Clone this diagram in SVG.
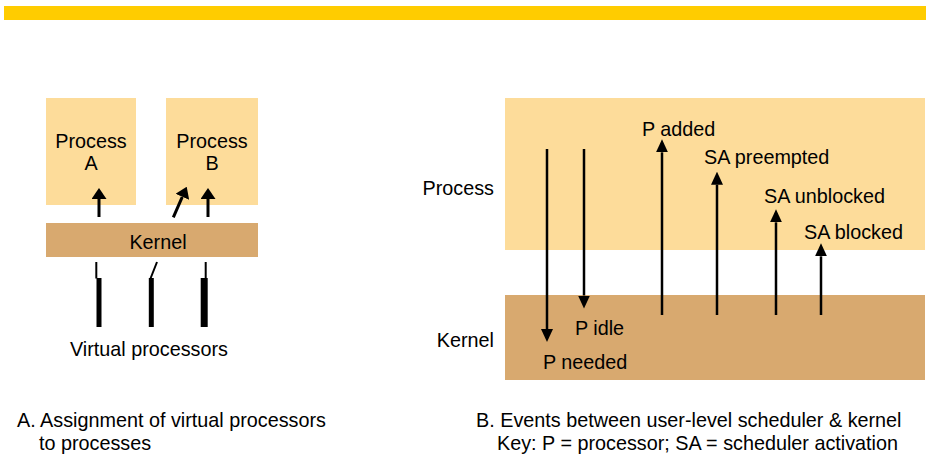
<svg xmlns="http://www.w3.org/2000/svg" width="926" height="456" viewBox="0 0 926 456">
<style>
text{font-family:"Liberation Sans",Arial,sans-serif;font-size:19.8px;fill:#000}
.proc{fill:#FDDC9A}
.kern{fill:#D8A96F}
.la{stroke:#000;stroke-width:3;fill:none}
.ra{stroke:#000;stroke-width:2.5;fill:none}
</style>
<defs>
<marker id="hl" markerUnits="userSpaceOnUse" markerWidth="11" markerHeight="15" viewBox="0 0 11 15" refX="0" refY="7.5" orient="auto"><path d="M0,0 L11,7.5 L0,15 z" fill="#000"/></marker>
<marker id="hr" markerUnits="userSpaceOnUse" markerWidth="13" markerHeight="12" viewBox="0 0 13 12" refX="0" refY="6" orient="auto"><path d="M0,0 L13,6 L0,12 z" fill="#000"/></marker>
</defs>
<rect x="4" y="6" width="922" height="14" fill="#FFCC00"/>

<g id="processA"><rect class="proc" x="46" y="98" width="90" height="107"/><text x="91" y="148" text-anchor="middle">Process</text><text x="91" y="170" text-anchor="middle">A</text></g>
<g id="processB"><rect class="proc" x="166" y="98" width="92" height="107"/><text x="212" y="148" text-anchor="middle">Process</text><text x="212" y="170" text-anchor="middle">B</text></g>
<g id="kernelA"><rect class="kern" x="46" y="223" width="212" height="34"/><text x="158" y="249" text-anchor="middle">Kernel</text></g>
<g id="vprocs">
<line x1="96.3" y1="262" x2="96.3" y2="278.5" stroke="#000" stroke-width="2"/>
<line x1="99" y1="278" x2="99" y2="327" stroke="#000" stroke-width="5"/>
<line x1="157" y1="262" x2="150.5" y2="278.5" stroke="#000" stroke-width="2"/>
<line x1="151.3" y1="278" x2="151.3" y2="327" stroke="#000" stroke-width="5"/>
<line x1="205.7" y1="262" x2="205.7" y2="278.5" stroke="#000" stroke-width="2"/>
<line x1="204.2" y1="278" x2="204.2" y2="327" stroke="#000" stroke-width="7"/>
<text x="70" y="356">Virtual processors</text>
</g>

<g id="processBand"><rect class="proc" x="505" y="98" width="420" height="152"/><text x="494" y="195" text-anchor="end">Process</text></g>
<g id="kernelBand"><rect class="kern" x="505" y="295" width="420" height="85"/><text x="494" y="347" text-anchor="end">Kernel</text></g>

<g id="connectors">
<line class="la" x1="99" y1="217" x2="99" y2="199" marker-end="url(#hl)"/>
<line class="la" x1="173.3" y1="217.3" x2="182.3" y2="196.8" marker-end="url(#hl)"/>
<line class="la" x1="208" y1="217" x2="208" y2="199" marker-end="url(#hl)"/>
<line class="ra" x1="547" y1="149" x2="547" y2="329" marker-end="url(#hr)"/>
<line class="ra" x1="584" y1="149" x2="584" y2="295.5" marker-end="url(#hr)"/>
<line class="ra" x1="662" y1="315" x2="662" y2="152.3" marker-end="url(#hr)"/>
<line class="ra" x1="717" y1="315" x2="717" y2="184.7" marker-end="url(#hr)"/>
<line class="ra" x1="776" y1="315" x2="776" y2="222.3" marker-end="url(#hr)"/>
<line class="ra" x1="821" y1="315" x2="821" y2="256.3" marker-end="url(#hr)"/>
</g>
<g id="eventLabels">
<text x="642" y="136">P added</text>
<text x="704" y="164">SA preempted</text>
<text x="764" y="203">SA unblocked</text>
<text x="804" y="239">SA blocked</text>
<text x="575" y="335">P idle</text>
<text x="543" y="369">P needed</text>
</g>
<g id="captions">
<text x="17" y="427">A. Assignment of virtual processors</text>
<text x="39" y="450">to processes</text>
<text x="476" y="427">B. Events between user-level scheduler &amp; kernel</text>
<text x="497" y="450">Key: P = processor; SA = scheduler activation</text>
</g>
</svg>
